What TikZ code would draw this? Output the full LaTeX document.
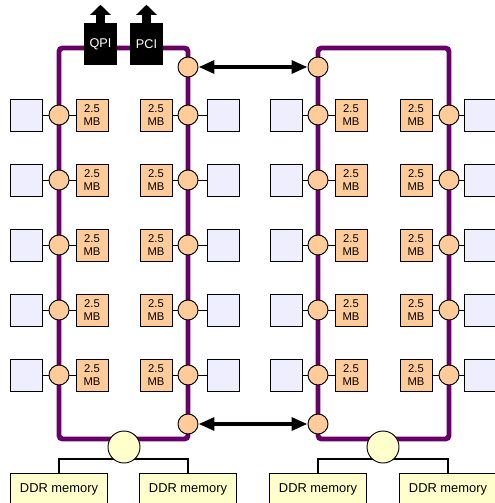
\documentclass[tikz,border=0pt]{standalone}
\usepackage{fontspec}
\setmainfont{Liberation Sans}
\usetikzlibrary{arrows.meta}

\definecolor{ringpurple}{HTML}{660066}
\definecolor{cachefill}{HTML}{FFCC99}
\definecolor{corefill}{HTML}{EEEEFF}
\definecolor{ddrfill}{HTML}{FFFFCC}

\tikzset{
  ring/.style={ringpurple,line width=4.2pt,rounded corners=3pt},
  core/.style={draw,fill=corefill,line width=0.8pt,minimum width=0.96cm,minimum height=0.96cm},
  cache/.style={draw,fill=cachefill,line width=0.8pt,minimum width=0.96cm,minimum height=0.96cm,
    inner sep=0pt,align=center,font=\fontsize{9.6}{11.2}\selectfont},
  hub/.style={circle,draw,fill=cachefill,line width=0.8pt,minimum size=0.6cm,inner sep=0pt},
  link/.style={line width=0.8pt},
  iobox/.style={fill=black,text=white,minimum width=0.99cm,minimum height=1.26cm,inner sep=0pt,
    font=\fontsize{10.8}{12}\selectfont},
  ioarrow/.style={line width=7.6pt,-{Triangle[length=0.3cm,width=0.6cm]}},
  qpath/.style={line width=3.6pt,{Triangle[length=0.48cm,width=0.38cm]}-{Triangle[length=0.48cm,width=0.38cm]}},
  ddr/.style={draw,fill=ddrfill,line width=0.8pt,anchor=north,minimum width=2.91cm,minimum height=0.96cm,
    font=\fontsize{11}{12}\selectfont},
  mctrl/.style={circle,draw,fill=ddrfill,line width=0.8pt,minimum size=0.96cm,inner sep=0pt},
  bus/.style={line width=2.4pt}
}

\begin{document}
\begin{tikzpicture}[x=0.03cm,y=-0.03cm]
  \useasboundingbox (0,0) rectangle (494,503);

  % the two ring buses
  \draw[ring] (59,439) -- (59,48) -- (188,48) -- (188,439) -- cycle;
  \draw[ring] (318,439) -- (318,48) -- (449,48) -- (449,439) -- cycle;

  % I/O on the left socket
  \node[iobox] (qpi) at (100.5,44) {QPI};
  \node[iobox] (pci) at (146.5,44) {PCI};
  \draw[ioarrow] (qpi.north) -- ++(0,-18);
  \draw[ioarrow] (pci.north) -- ++(0,-18);

  % cores, ring stops and cache slices
  \foreach \r/\y in {1/115,2/180,3/245,4/310,5/375}{
    \node[core]  (coreLa\r)  at (26,\y)  {};
    \node[hub]   (hubLa\r)   at (59,\y)  {};
    \node[cache] (cacheLa\r) at (92,\y)  {2.5\\MB};
    \node[cache] (cacheLb\r) at (156,\y) {2.5\\MB};
    \node[hub]   (hubLb\r)   at (188,\y) {};
    \node[core]  (coreLb\r)  at (223,\y) {};
    \node[core]  (coreRa\r)  at (286,\y) {};
    \node[hub]   (hubRa\r)   at (318,\y) {};
    \node[cache] (cacheRa\r) at (351,\y) {2.5\\MB};
    \node[cache] (cacheRb\r) at (416,\y) {2.5\\MB};
    \node[hub]   (hubRb\r)   at (449,\y) {};
    \node[core]  (coreRb\r)  at (480,\y) {};
    \draw[link] (coreLa\r) -- (hubLa\r) -- (cacheLa\r);
    \draw[link] (cacheLb\r) -- (hubLb\r) -- (coreLb\r);
    \draw[link] (coreRa\r) -- (hubRa\r) -- (cacheRa\r);
    \draw[link] (cacheRb\r) -- (hubRb\r) -- (coreRb\r);
  }

  % links between the sockets
  \node[hub] (linkLt) at (188,67) {};
  \node[hub] (linkRt) at (318,67) {};
  \node[hub] (linkLb) at (188,424) {};
  \node[hub] (linkRb) at (318,424) {};
  \draw[qpath] (linkLt) -- (linkRt);
  \draw[qpath] (linkLb) -- (linkRb);

  % memory
  \node[ddr] (ddrLa) at (59,473)  {DDR memory};
  \node[ddr] (ddrLb) at (188,473) {DDR memory};
  \node[ddr] (ddrRa) at (318,473) {DDR memory};
  \node[ddr] (ddrRb) at (448,473) {DDR memory};
  \draw[bus] (ddrLa.north) -- ++(0,-14) -| (ddrLb.north);
  \draw[bus] (ddrRa.north) -- ++(0,-14) -| (ddrRb.north);
  \node[mctrl] (mcL) at (124,447) {};
  \node[mctrl] (mcR) at (383,447) {};
\end{tikzpicture}
\end{document}
